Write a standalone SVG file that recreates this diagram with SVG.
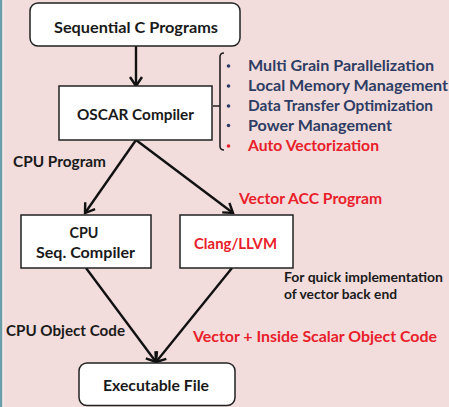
<svg xmlns="http://www.w3.org/2000/svg" width="449" height="407" viewBox="0 0 449 407">
<defs>
<marker id="arr" markerUnits="userSpaceOnUse" markerWidth="20" markerHeight="20" refX="0" refY="0" viewBox="-12 -10 14 20" orient="auto" overflow="visible">
<path d="M-9,-6 L0,0 L-9,6" fill="none" stroke="#111" stroke-width="2.4" stroke-linejoin="miter"/>
</marker>
<style>
.box{fill:#fff;stroke:#222;stroke-width:1.5}
.t{font-family:Lato,"Liberation Sans",sans-serif;font-weight:bold;fill:#1a1a1a}
.c{text-anchor:middle;font-size:16px}
.blue{fill:#2e3d63;font-size:15px}
.red{fill:#e8202a}
.edge{stroke:#111;stroke-width:2.4;fill:none;marker-end:url(#arr)}
</style>
</defs>
<rect width="449" height="407" fill="#f2dcdc"/>
<rect x="0" y="0" width="2.5" height="407" fill="#6a9fa9"/>
<rect x="2.5" y="0" width="1.2" height="407" fill="#fbeeee"/>

<g id="connectors">
<line class="edge" x1="136" y1="46" x2="136" y2="86"/>
<line class="edge" x1="136" y1="140" x2="85" y2="213"/>
<line class="edge" x1="136" y1="140" x2="233" y2="213"/>
<line class="edge" x1="86" y1="268" x2="156" y2="362"/>
<line class="edge" x1="232" y1="268" x2="156" y2="362"/>
</g>

<g id="seq">
<rect class="box" x="30" y="3" width="210" height="43" rx="8"/>
<text class="t c" x="136" y="32.5" textLength="164" lengthAdjust="spacingAndGlyphs">Sequential C  Programs</text>
</g>

<g id="oscar">
<rect class="box" x="59" y="86" width="153" height="54"/>
<text class="t c" x="135.5" y="119.8" textLength="117" lengthAdjust="spacingAndGlyphs">OSCAR Compiler</text>
</g>

<g id="features">
<path d="M224,53 Q220,53 220,57 L220,146 Q220,150 224,150 M220,106 L213,106" fill="none" stroke="#222" stroke-width="1.6"/>
<g fill="#2e3d63"><circle cx="228.5" cy="66" r="1.8"/><circle cx="228.5" cy="86" r="1.8"/><circle cx="228.5" cy="106" r="1.8"/><circle cx="228.5" cy="125.5" r="1.8"/></g>
<circle cx="228.5" cy="146" r="1.8" fill="#e8202a"/>
<text class="t blue" x="248" y="71.3" textLength="186" lengthAdjust="spacingAndGlyphs">Multi Grain Parallelization</text>
<text class="t blue" x="248" y="91.3" textLength="200" lengthAdjust="spacingAndGlyphs">Local Memory Management</text>
<text class="t blue" x="248" y="111.3" textLength="185" lengthAdjust="spacingAndGlyphs">Data Transfer Optimization</text>
<text class="t blue" x="248" y="130.8" textLength="144" lengthAdjust="spacingAndGlyphs">Power Management</text>
<text class="t blue red" x="248" y="151.3" textLength="131" lengthAdjust="spacingAndGlyphs">Auto Vectorization</text>
</g>

<g id="cpuseq">
<rect class="box" x="21" y="215" width="130" height="53"/>
<text class="t c" x="84" y="237.8" textLength="29" lengthAdjust="spacingAndGlyphs">CPU</text>
<text class="t c" x="85.5" y="257.8" textLength="99" lengthAdjust="spacingAndGlyphs">Seq. Compiler</text>
</g>

<g id="clang">
<rect class="box" x="180" y="215" width="113" height="53"/>
<text class="t c red" x="235.5" y="248.8" textLength="83" lengthAdjust="spacingAndGlyphs">Clang/LLVM</text>
</g>

<g id="exec">
<rect class="box" x="79" y="363" width="156" height="42.5" rx="8"/>
<text class="t c" x="156" y="390.8" textLength="106" lengthAdjust="spacingAndGlyphs">Executable File</text>
</g>

<g id="labels">
<text class="t" font-size="15" x="13" y="167.3" textLength="93" lengthAdjust="spacingAndGlyphs">CPU Program</text>
<text class="t red" font-size="15.5" x="239" y="203.5" textLength="143" lengthAdjust="spacingAndGlyphs">Vector ACC Program</text>
<text class="t" font-size="12.5" x="284" y="281.6" textLength="159" lengthAdjust="spacingAndGlyphs">For quick implementation</text>
<text class="t" font-size="12.5" x="284" y="298.6" textLength="113" lengthAdjust="spacingAndGlyphs">of vector back end</text>
<text class="t" font-size="15" x="6" y="336.3" textLength="119" lengthAdjust="spacingAndGlyphs">CPU Object Code</text>
<text class="t red" font-size="16" x="193" y="341.8" textLength="244" lengthAdjust="spacingAndGlyphs">Vector + Inside Scalar Object Code</text>
</g>
</svg>
